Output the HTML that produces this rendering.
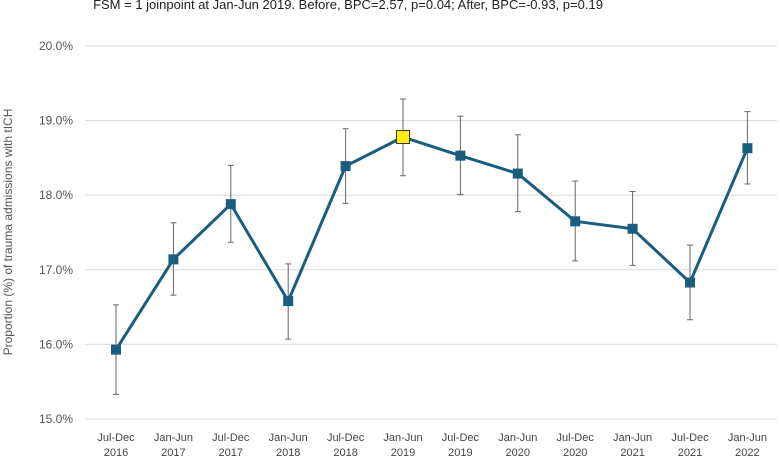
<!DOCTYPE html>
<html><head><meta charset="utf-8"><style>
body{margin:0;background:#fff;font-family:"Liberation Sans",sans-serif}
svg text{font-family:"Liberation Sans",sans-serif}
</style></head><body>
<svg width="780" height="457" viewBox="0 0 780 457">
<text x="348" y="9" text-anchor="middle" font-size="13" fill="#222">FSM = 1 joinpoint at Jan-Jun 2019. Before, BPC=2.57, p=0.04; After, BPC=-0.93, p=0.19</text>
<text transform="translate(12,232) rotate(-90)" text-anchor="middle" font-size="12" fill="#555">Proportion (%) of trauma admissions with tICH</text>
<g id="grid"></g><g id="yt"></g><g id="xt"></g><g id="err"></g><g id="ln"></g>
</svg>
<script>
const categories=[["Jul-Dec","2016"],["Jan-Jun","2017"],["Jul-Dec","2017"],["Jan-Jun","2018"],["Jul-Dec","2018"],["Jan-Jun","2019"],["Jul-Dec","2019"],["Jan-Jun","2020"],["Jul-Dec","2020"],["Jan-Jun","2021"],["Jul-Dec","2021"],["Jan-Jun","2022"]];
const values=[15.93,17.14,17.88,16.58,18.39,18.78,18.53,18.29,17.65,17.55,16.83,18.63];
const upper=[16.53,17.63,18.40,17.08,18.89,19.29,19.06,18.81,18.19,18.05,17.33,19.12];
const lower=[15.33,16.66,17.37,16.07,17.89,18.26,18.01,17.78,17.12,17.06,16.33,18.15];
const yTicks=[15,16,17,18,19,20];
const joinIndex=5;
const NS="http://www.w3.org/2000/svg";
const X=i=>116+i*57.4, Y=v=>419-(v-15)*74.6;
function mk(p,t,a){const e=document.createElementNS(NS,t);for(const k in a)e.setAttribute(k,a[k]);document.getElementById(p).appendChild(e);return e;}
yTicks.forEach(t=>{
 const g=mk('grid','line',{x1:85,x2:777,y1:Y(t),y2:Y(t),stroke:'#d9d9d9','stroke-width':1});
 
 
 const tx=mk('yt','text',{x:73,y:Y(t)+4,'text-anchor':'end','font-size':12,fill:'#555'});
 tx.textContent=t.toFixed(1)+'%';
 
 
});
categories.forEach((c,i)=>{
 c.forEach((s,j)=>{const t=mk('xt','text',{x:X(i),y:441+j*15,'text-anchor':'middle','font-size':11,fill:'#444'});t.textContent=s;
 
 });
});
values.forEach((v,i)=>{
 const x=X(i);
 const e=mk('err','path',{d:`M${x},${Y(upper[i])}V${Y(lower[i])}M${x-3},${Y(upper[i])}h6M${x-3},${Y(lower[i])}h6`,stroke:'#666','stroke-width':1,fill:'none'});
 
 
});
const l=mk('ln','polyline',{points:values.map((v,i)=>X(i)+','+Y(v)).join(' '),fill:'none',stroke:'#1a5d7e','stroke-width':3,'stroke-linejoin':'round'});


values.forEach((v,i)=>{
 const j=i===joinIndex,s=j?13:10;
 const m=mk('ln','rect',{x:X(i)-s/2,y:Y(v)-s/2,width:s,height:s,fill:j?'#ffef00':'#1a5d7e',stroke:j?'#333':'none','stroke-width':1});
 
 
});
</script>
</body></html>
